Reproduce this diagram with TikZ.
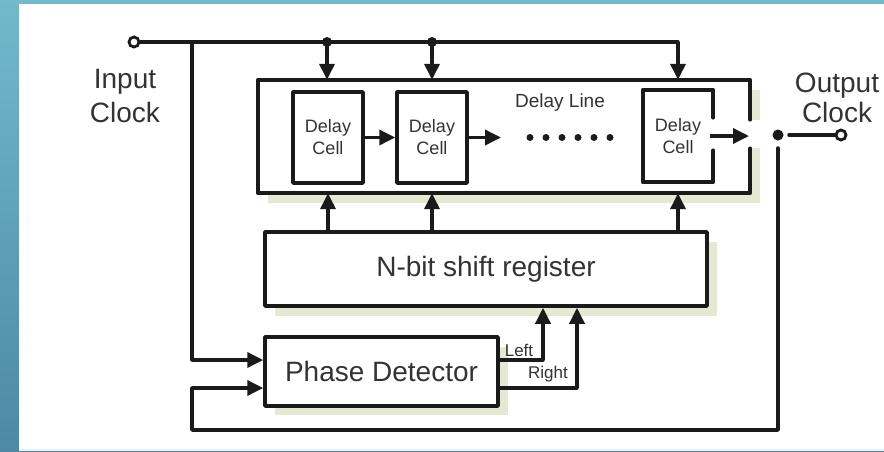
\documentclass[tikz,border=0pt]{standalone}
\usepackage{fontspec}
\setmainfont{Liberation Sans}
\usetikzlibrary{arrows.meta,calc}
\definecolor{ink}{HTML}{1A1A1A}
\definecolor{txt}{HTML}{333333}
\definecolor{shadowgreen}{HTML}{E4E9D2}
\definecolor{tealtop}{HTML}{72B9CC}
\definecolor{tealbot}{HTML}{4D89A4}
\begin{document}
\begin{tikzpicture}[x=1pt,y=-1pt,
  wire/.style={line width=3.5pt, draw=ink, line cap=round, line join=round},
  arr/.style={line width=3.5pt, draw=ink, -{Triangle[length=16pt,width=15pt]}},
  box/.style={draw=ink, line width=3.5pt, line join=round, fill=white, inner sep=0pt, text=txt},
  big/.style={font=\fontsize{28}{34}\selectfont, text=txt},
  small/.style={font=\fontsize{18}{22}\selectfont, text=txt},
  tiny/.style={font=\fontsize{17}{20}\selectfont, text=txt},
  jdot/.style={circle, fill=ink, inner sep=0pt, minimum size=10pt},
  term/.style={circle, draw=ink, line width=2.8pt, fill=white, inner sep=0pt, minimum size=10pt}]

\useasboundingbox (0,0) rectangle (884,451);
% background panel
\fill[top color=tealtop, bottom color=tealbot] (0,0) rectangle (884,451);
\fill[white] (19,4) rectangle (884,449);
\fill[black!6] (19,449) rectangle (884,451);

% shadows
\fill[shadowgreen] (268,90) rectangle (760,203);
\fill[shadowgreen] (275,242) rectangle (717,316);
\fill[shadowgreen] (275,347) rectangle (508,415);

% delay line frame
\node[inner sep=0pt, minimum width=492pt, minimum height=113pt] (DL) at (504,136.5) {};
\fill[white] (DL.north west) rectangle (DL.south east);
\fill[white] ($(DL.north east)+(-1,40)$) rectangle ($(DL.south east)+(12,-45)$);
\draw[wire] ($(DL.north east)+(0,40)$) -- (DL.north east) -- (DL.north west)
  -- (DL.south west) -- (DL.south east) -- ($(DL.south east)+(0,-45)$);
\node[small, font=\fontsize{19}{22}\selectfont] (DLL) at (560,103) {Delay Line};

% delay cells
\node[box, minimum width=70pt, minimum height=91pt, small, align=center] (C1) at (328,137.5) {Delay\\Cell};
\node[box, minimum width=70pt, minimum height=91pt, small, align=center] (C2) at (432,137.5) {Delay\\Cell};
\node[inner sep=0pt, minimum width=70pt, minimum height=92pt, small, align=center] (C3) at (678,136) {Delay\\Cell};
\draw[wire] ($(C3.north east)+(0,28)$) -- (C3.north east) -- (C3.north west)
  -- (C3.south west) -- (C3.south east) -- ($(C3.south east)+(0,-32)$);

\coordinate (dotsL) at (501,137.5);
\draw[arr] (C1.east) -- (C2.west);
\draw[arr] (C2.east) -- (dotsL);
\foreach \i in {0,...,5} \fill[ink] (530+16*\i,137.5) circle (3.5pt);
\coordinate (gapR) at (749,136);
\draw[arr] ($(C3.east)+(-3,0)$) -- (gapR);

% output
\node[jdot, minimum size=11pt] (OD) at (778,135) {};
\node[term] (OT) at (841,135) {};
\draw[wire] ($(OD)+(11,0)$) -- (OT.west);
\node[big, align=center, font=\fontsize{28}{30}\selectfont] (OUTL) at (837,98) {Output\\Clock};

% input
\node[term] (IT) at (134,42) {};
\node[big, align=center] (INL) at (125,96) {Input\\Clock};
\coordinate (T1) at (192,42);
\coordinate (T2) at (327,42);
\coordinate (T3) at (432,42);
\coordinate (T4) at (678,42);
\draw[wire] (IT.east) -- (T4);
\node[jdot] at (T2) {};
\node[jdot] at (T3) {};
\draw[arr] (T2) -- (T2 |- DL.north);
\draw[arr] (T3) -- (T3 |- DL.north);
\draw[arr] (T4) -- (T4 |- DL.north);

% shift register
\node[box, minimum width=442pt, minimum height=74pt, big] (SR) at (486,269) {N-bit shift register};
\draw[arr] (SR.north -| C1) -- (DL.south -| C1);
\draw[arr] (SR.north -| C2) -- (DL.south -| C2);
\draw[arr] (SR.north -| C3) -- (DL.south -| C3);

% phase detector
\node[box, minimum width=233pt, minimum height=69pt, big] (PD) at (381.5,371.5) {Phase Detector};
\coordinate (A1) at (192,360);
\draw[wire] (T1) -- (A1);
\draw[arr] (A1) -- (A1 -| PD.west);

\coordinate (L1) at (543,360);
\coordinate (R1) at (577,388);
\draw[wire] (PD.east |- L1) -- (L1);
\draw[arr] (L1) -- (L1 |- SR.south);
\draw[wire] (PD.east |- R1) -- (R1);
\draw[arr] (R1) -- (R1 |- SR.south);
\node[tiny] (LL) at (519,350) {Left};
\node[tiny] (RL) at (548,374) {Right};

% feedback from output
\coordinate (B1) at (778,430);
\coordinate (B2) at (192,430);
\coordinate (B3) at (192,388);
\draw[wire] ($(OD)+(0,13)$) -- (B1) -- (B2) -- (B3);
\draw[arr] (B3) -- (B3 -| PD.west);
\end{tikzpicture}
\end{document}
